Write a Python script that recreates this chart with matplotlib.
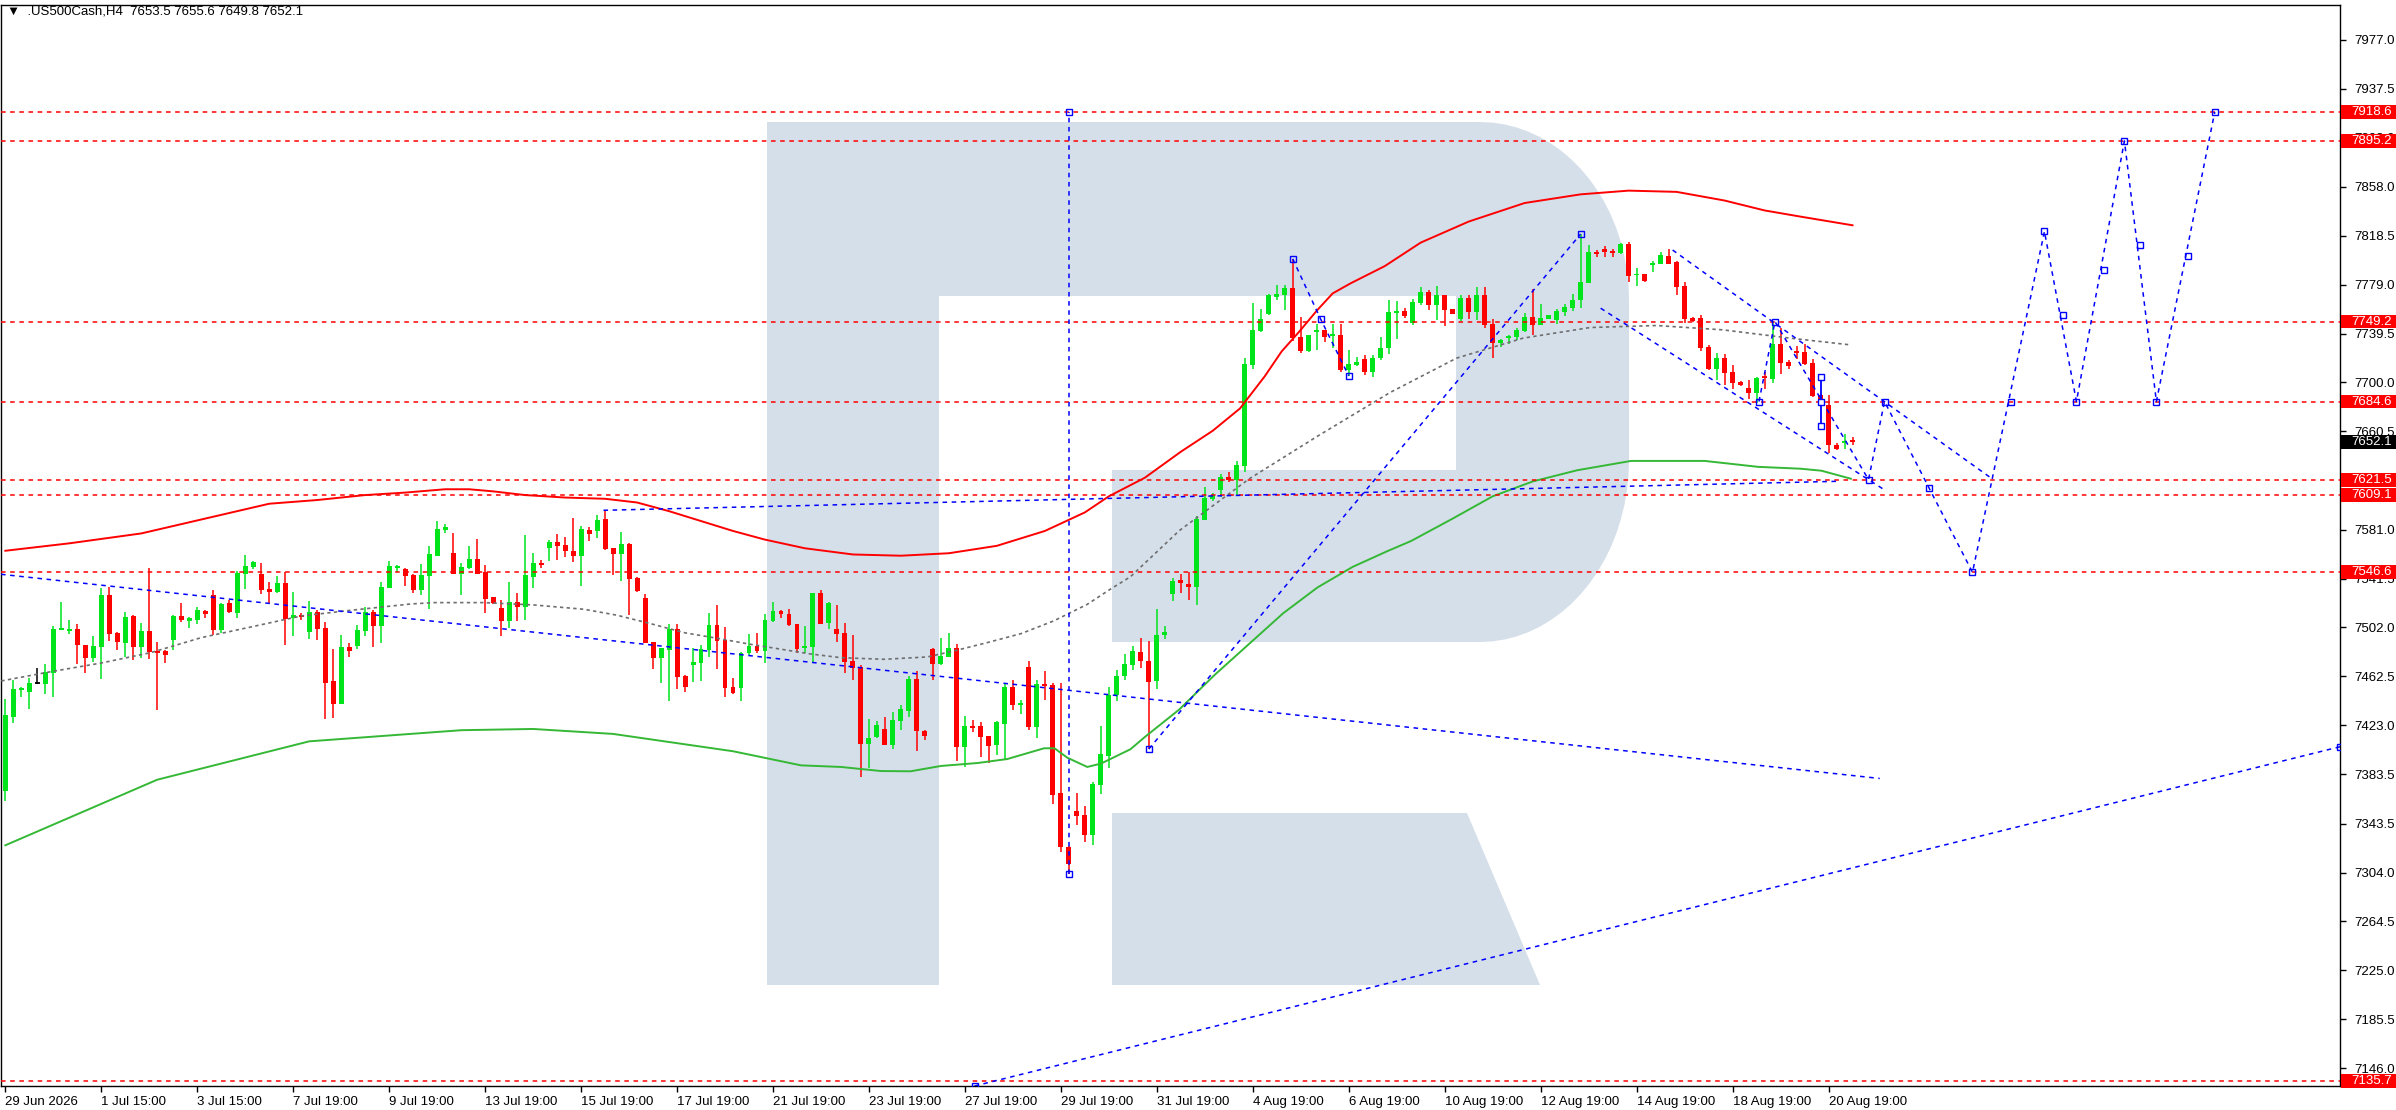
import matplotlib
matplotlib.use('Agg')
import matplotlib.pyplot as plt
from matplotlib.patches import Rectangle, PathPatch
from matplotlib.path import Path
import numpy as np

plt.rcParams['font.family'] = ['Liberation Sans', 'DejaVu Sans']

# H4 candles, bar 0 = 29 Jun 2026
opens = [7370.0, 7430.0, 7451.5, 7449.9, 7456.9, 7456.6, 7465.2, 7500.3, 7499.5, 7500.8,
         7487.9, 7477.6, 7486.5, 7528.3, 7497.8, 7489.8, 7511.3, 7486.5, 7499.2, 7483.0,
         7483.0, 7492.2, 7511.3, 7508.3, 7508.3, 7515.4, 7528.3, 7500.3, 7521.8, 7514.0,
         7545.5, 7551.2, 7545.3, 7533.1, 7531.0, 7538.0, 7510.0, 7512.1, 7498.6, 7514.5,
         7501.6, 7458.5, 7440.4, 7486.5, 7487.1, 7499.5, 7514.5, 7503.2, 7534.3, 7550.3,
         7549.6, 7544.5, 7532.6, 7543.9, 7559.8, 7580.8, 7562.2, 7545.5, 7549.8, 7557.4,
         7546.9, 7526.7, 7517.8, 7507.6, 7522.6, 7518.9, 7543.1, 7554.1, 7566.3, 7571.1,
         7568.7, 7563.8, 7559.8, 7580.8, 7580.0, 7589.7, 7566.3, 7561.4, 7569.5, 7542.0,
         7525.9, 7490.3, 7477.6, 7484.1, 7500.8, 7462.8, 7472.0, 7473.6, 7483.8, 7504.0,
         7491.9, 7453.9, 7453.4, 7481.7, 7487.1, 7483.0, 7507.0, 7515.3, 7512.9, 7504.8,
         7485.4, 7486.5, 7529.9, 7505.9, 7500.8, 7497.6, 7474.9, 7470.1, 7408.1, 7413.5,
         7420.0, 7407.3, 7426.7, 7434.8, 7460.4, 7418.4, 7484.6, 7472.8, 7478.4, 7485.2,
         7405.7, 7422.4, 7422.4, 7414.3, 7407.3, 7424.3, 7453.9, 7439.6, 7470.1, 7421.9,
         7456.4, 7455.5, 7368.5, 7324.9, 7353.7, 7350.5, 7334.3, 7374.7, 7398.0, 7447.5,
         7462.8, 7471.9, 7482.4, 7474.9, 7458.5, 7496.0, 7528.8, 7540.5, 7537.2, 7534.9,
         7589.1, 7606.1, 7613.0, 7623.6, 7621.4, 7632.5, 7714.2, 7741.4, 7755.3, 7770.0,
         7770.3, 7776.7, 7736.4, 7725.8, 7740.9, 7742.5, 7737.5, 7738.6, 7710.0, 7714.2,
         7719.2, 7708.6, 7720.0, 7727.5, 7756.5, 7757.8, 7747.9, 7764.5, 7773.3, 7762.9,
         7770.9, 7759.4, 7751.6, 7768.5, 7757.2, 7770.9, 7747.6, 7731.5, 7736.0, 7737.1,
         7741.2, 7753.2, 7746.8, 7751.6, 7750.8, 7757.2, 7760.5, 7766.9, 7780.6, 7805.5,
         7807.9, 7806.3, 7804.7, 7811.9, 7786.5, 7787.8, 7795.3, 7795.8, 7802.3, 7797.4,
         7778.1, 7752.4, 7752.4, 7728.3, 7710.6, 7719.5, 7708.2, 7700.2, 7695.3, 7691.3,
         7704.2, 7702.6, 7730.7, 7716.2, 7725.1, 7724.3, 7715.4, 7689.7, 7681.7, 7649.8,
         7652.1, 7653.5]
highs = [7444.0, 7459.6, 7454.2, 7461.5, 7469.5, 7472.3, 7502.9, 7522.9, 7508.1, 7504.6,
         7488.0, 7495.1, 7533.7, 7534.8, 7498.4, 7514.5, 7511.8, 7505.4, 7550.1, 7490.0,
         7483.5, 7512.1, 7522.1, 7510.5, 7518.6, 7516.4, 7532.3, 7521.8, 7524.5, 7547.7,
         7560.6, 7555.8, 7554.2, 7538.8, 7543.4, 7546.9, 7530.7, 7513.5, 7523.4, 7516.2,
         7506.5, 7484.9, 7496.0, 7489.5, 7504.0, 7518.6, 7516.2, 7539.1, 7555.8, 7552.5,
         7550.4, 7545.5, 7553.1, 7567.9, 7588.1, 7585.7, 7578.4, 7554.1, 7567.9, 7573.6,
         7552.5, 7526.9, 7524.2, 7538.8, 7529.9, 7577.0, 7562.2, 7556.6, 7572.7, 7577.6,
         7575.2, 7590.5, 7584.0, 7583.2, 7592.9, 7597.0, 7566.5, 7579.2, 7570.3, 7542.8,
         7529.1, 7490.5, 7485.7, 7504.8, 7504.8, 7463.9, 7485.5, 7487.9, 7513.7, 7520.2,
         7502.7, 7461.2, 7481.9, 7496.8, 7497.6, 7512.9, 7522.6, 7516.2, 7517.0, 7505.0,
         7503.2, 7530.0, 7532.6, 7522.9, 7520.2, 7505.6, 7495.9, 7471.7, 7428.1, 7426.4,
         7429.7, 7433.7, 7439.4, 7462.8, 7466.9, 7419.2, 7485.4, 7493.5, 7497.8, 7488.7,
         7430.5, 7427.3, 7425.6, 7414.5, 7426.4, 7456.4, 7459.6, 7443.4, 7475.0, 7459.6,
         7466.9, 7457.2, 7457.2, 7325.7, 7368.5, 7357.8, 7377.1, 7422.4, 7453.9, 7467.7,
         7480.7, 7487.1, 7493.5, 7491.3, 7517.2, 7503.0, 7541.9, 7545.5, 7546.9, 7591.9,
         7615.5, 7610.8, 7625.8, 7628.0, 7636.4, 7719.7, 7764.2, 7759.2, 7771.7, 7778.4,
         7778.4, 7799.8, 7753.1, 7738.6, 7747.0, 7742.7, 7747.0, 7747.5, 7726.4, 7720.3,
         7721.9, 7722.5, 7736.4, 7766.4, 7765.6, 7759.9, 7767.4, 7777.3, 7774.9, 7778.1,
         7771.0, 7759.6, 7770.9, 7770.9, 7777.3, 7777.3, 7751.6, 7734.8, 7738.7, 7744.4,
         7756.4, 7775.7, 7763.7, 7754.9, 7759.6, 7763.7, 7771.7, 7819.9, 7811.1, 7807.1,
         7810.3, 7807.9, 7812.7, 7813.5, 7792.6, 7787.9, 7798.2, 7805.5, 7807.9, 7798.2,
         7781.4, 7753.2, 7754.8, 7729.9, 7723.5, 7722.7, 7713.8, 7701.0, 7701.8, 7704.2,
         7708.2, 7749.2, 7744.4, 7717.8, 7729.1, 7730.7, 7718.6, 7690.5, 7689.7, 7651.4,
         7658.1, 7655.6]
lows = [7362.0, 7425.1, 7445.8, 7436.4, 7456.0, 7448.5, 7445.8, 7500.0, 7497.0, 7472.2,
        7465.2, 7474.1, 7460.7, 7491.1, 7484.1, 7478.2, 7476.0, 7477.6, 7476.8, 7435.6,
        7473.3, 7484.1, 7506.5, 7501.6, 7504.9, 7510.0, 7496.0, 7497.8, 7513.7, 7510.0,
        7533.1, 7549.6, 7529.1, 7521.8, 7530.2, 7487.9, 7495.1, 7508.1, 7493.0, 7491.6,
        7428.3, 7429.1, 7440.0, 7478.4, 7484.9, 7495.1, 7486.5, 7489.5, 7534.0, 7546.9,
        7535.6, 7530.2, 7528.3, 7517.2, 7559.5, 7578.4, 7545.0, 7528.3, 7549.0, 7545.0,
        7514.0, 7520.7, 7495.4, 7501.9, 7507.6, 7508.4, 7533.7, 7550.4, 7555.8, 7556.6,
        7559.0, 7555.0, 7535.6, 7572.0, 7574.3, 7564.6, 7544.4, 7539.6, 7512.1, 7531.0,
        7489.5, 7468.7, 7457.4, 7442.9, 7452.6, 7450.2, 7458.2, 7459.0, 7478.4, 7468.7,
        7446.1, 7448.5, 7442.9, 7480.0, 7481.7, 7473.6, 7506.7, 7510.0, 7503.5, 7481.7,
        7481.7, 7473.6, 7505.0, 7501.1, 7490.6, 7465.5, 7459.6, 7381.5, 7388.7, 7412.7,
        7407.0, 7404.1, 7419.4, 7430.0, 7402.5, 7411.4, 7459.9, 7472.0, 7478.0, 7394.4,
        7389.5, 7417.8, 7397.6, 7392.8, 7399.2, 7395.2, 7435.3, 7432.1, 7419.4, 7413.0,
        7443.4, 7359.6, 7320.8, 7302.5, 7342.4, 7328.6, 7326.2, 7367.4, 7388.4, 7442.6,
        7459.6, 7467.7, 7469.6, 7403.8, 7452.4, 7492.7, 7523.3, 7530.2, 7524.6, 7520.5,
        7589.0, 7604.4, 7607.7, 7619.7, 7609.4, 7628.0, 7710.8, 7741.0, 7754.5, 7766.4,
        7758.6, 7733.1, 7723.9, 7724.7, 7726.1, 7732.5, 7727.5, 7708.1, 7705.3, 7713.6,
        7705.8, 7704.2, 7718.3, 7723.1, 7735.0, 7752.4, 7746.3, 7762.9, 7758.8, 7750.8,
        7745.4, 7755.4, 7750.0, 7751.6, 7750.8, 7744.4, 7719.5, 7728.3, 7730.7, 7733.9,
        7741.0, 7738.7, 7746.6, 7751.5, 7747.6, 7754.0, 7758.0, 7760.5, 7780.5, 7801.5,
        7801.7, 7801.7, 7803.9, 7781.4, 7778.1, 7781.4, 7789.4, 7795.6, 7795.6, 7770.9,
        7748.4, 7749.2, 7725.1, 7709.8, 7701.8, 7697.7, 7694.5, 7696.9, 7686.5, 7683.3,
        7694.5, 7699.4, 7706.6, 7710.6, 7718.6, 7713.8, 7688.1, 7680.9, 7643.3, 7645.8,
        7646.6, 7649.8]
closes = [7431.0, 7452.3, 7453.1, 7457.2, 7456.9, 7465.8, 7500.8, 7501.6, 7500.8, 7487.9,
          7477.6, 7487.1, 7528.3, 7497.0, 7490.6, 7510.5, 7486.5, 7499.2, 7482.5, 7481.7,
          7480.1, 7511.3, 7508.3, 7509.4, 7516.2, 7513.2, 7500.3, 7521.0, 7514.5, 7546.1,
          7551.7, 7555.0, 7532.6, 7531.0, 7538.0, 7509.2, 7512.1, 7510.5, 7514.5, 7501.1,
          7457.2, 7440.4, 7486.5, 7483.3, 7500.3, 7514.5, 7503.2, 7534.8, 7551.7, 7551.7,
          7543.9, 7532.6, 7544.5, 7561.4, 7581.6, 7583.2, 7545.5, 7550.9, 7557.4, 7545.5,
          7525.3, 7522.1, 7507.6, 7522.6, 7518.9, 7544.4, 7554.1, 7552.5, 7571.1, 7567.9,
          7563.8, 7559.8, 7581.6, 7577.6, 7588.9, 7565.5, 7561.4, 7569.5, 7541.5, 7531.8,
          7489.8, 7477.6, 7485.5, 7500.8, 7462.3, 7454.2, 7474.4, 7484.6, 7504.0, 7491.1,
          7453.4, 7449.3, 7481.1, 7487.1, 7483.0, 7508.1, 7515.3, 7512.9, 7504.3, 7484.9,
          7487.1, 7529.9, 7505.1, 7521.8, 7497.0, 7474.4, 7469.5, 7408.1, 7412.7, 7423.2,
          7407.3, 7427.3, 7436.2, 7460.4, 7418.6, 7414.6, 7472.8, 7478.7, 7485.2, 7405.7,
          7422.4, 7421.1, 7413.8, 7406.5, 7425.6, 7453.9, 7439.6, 7441.0, 7421.9, 7456.4,
          7454.7, 7366.9, 7324.9, 7311.1, 7349.7, 7334.3, 7375.5, 7399.8, 7447.5, 7462.8,
          7472.4, 7482.9, 7474.6, 7457.7, 7496.0, 7498.0, 7539.4, 7537.7, 7534.9, 7590.0,
          7606.6, 7609.4, 7623.3, 7621.4, 7633.0, 7714.7, 7742.2, 7750.9, 7770.3, 7771.1,
          7776.7, 7735.9, 7725.8, 7738.1, 7742.5, 7736.7, 7738.9, 7710.0, 7714.7, 7716.9,
          7708.6, 7720.0, 7728.1, 7757.3, 7758.1, 7754.0, 7765.3, 7773.3, 7762.9, 7770.9,
          7758.8, 7755.6, 7768.5, 7757.2, 7770.9, 7746.8, 7731.5, 7734.7, 7737.9, 7742.0,
          7753.2, 7746.8, 7752.4, 7754.8, 7758.0, 7761.3, 7766.9, 7781.4, 7805.5, 7804.1,
          7805.7, 7804.7, 7811.9, 7786.2, 7787.8, 7782.2, 7796.6, 7803.1, 7795.8, 7777.3,
          7751.6, 7750.0, 7727.5, 7710.6, 7719.5, 7707.4, 7699.4, 7697.7, 7691.3, 7703.4,
          7703.4, 7730.7, 7715.4, 7713.0, 7723.5, 7714.6, 7688.9, 7681.7, 7649.8, 7646.6,
          7653.0, 7652.1]

tick_labels = ['29 Jun 2026', '1 Jul 15:00', '3 Jul 15:00', '7 Jul 19:00', '9 Jul 19:00',
               '13 Jul 19:00', '15 Jul 19:00', '17 Jul 19:00', '21 Jul 19:00', '23 Jul 19:00',
               '27 Jul 19:00', '29 Jul 19:00', '31 Jul 19:00', '4 Aug 19:00', '6 Aug 19:00',
               '10 Aug 19:00', '12 Aug 19:00', '14 Aug 19:00', '18 Aug 19:00', '20 Aug 19:00']
price_ticks = [7146.0, 7185.5, 7225.0, 7264.5, 7304.0, 7343.5, 7383.5, 7423.0, 7462.5, 7502.0,
               7541.5, 7581.0, 7621.0, 7660.5, 7700.0, 7739.5, 7779.0, 7818.5, 7858.0, 7898.0,
               7937.5, 7977.0]
levels = [7918.6, 7895.2, 7749.2, 7684.6, 7621.5, 7609.1, 7546.6, 7135.7]
last_price = 7652.1

# moving averages (bar index, price)
red_ma_x = [0, 8, 17, 25, 33, 39, 45, 50, 55, 58, 61, 65, 70, 75, 79, 83, 87, 91, 95, 100,
            106, 112, 118, 124, 130, 135, 138, 142.5, 147, 151, 154.4, 157.5, 159.6, 161.8,
            164, 166, 168.2, 172.5, 177, 183, 190, 197, 203, 209, 215, 220, 224.5, 231]
red_ma_y = [7564, 7570, 7578, 7590, 7602, 7605, 7609, 7611, 7613.7, 7613.7, 7612, 7609, 7607,
            7606, 7603, 7596, 7588, 7580, 7573, 7566, 7561, 7560, 7562, 7568, 7580, 7595, 7608,
            7623, 7644, 7661, 7679, 7705, 7725, 7741, 7758, 7772, 7780, 7794, 7813, 7830, 7845,
            7852, 7855, 7854, 7847, 7839, 7834, 7827]
gray_ma_x = [-0.5, 5.7, 12, 18.2, 24.5, 30.7, 37, 43.2, 50.7, 53.6, 59.9, 66.1, 72.4, 76.5,
             80.7, 84.9, 89, 93.2, 100.7, 104.5, 109.9, 115.3, 118.6, 122.8, 127, 131.1, 135.3,
             138.2, 140.7, 146.8, 155.5, 164.1, 173.2, 181.5, 189.8, 198.2, 206.5, 214.8, 223.2,
             230.7]
gray_ma_y = [7458.8, 7466.3, 7473.3, 7481.7, 7493.8, 7502.4, 7511.3, 7515.9, 7521.0, 7522.1,
             7522.1, 7520.2, 7516.7, 7511.9, 7505.1, 7497.8, 7493.3, 7488.4, 7480.6, 7477.6,
             7476.3, 7478.2, 7483.0, 7489.8, 7497.0, 7507.3, 7520.7, 7533.0, 7543.0, 7580.2,
             7621.9, 7656.6, 7692.0, 7719.7, 7735.8, 7744.4, 7746.0, 7742.5, 7735.8, 7730.4]
green_ma_x = [0, 19, 38, 57, 66, 76, 91, 99.5, 104.5, 109.5, 113.2, 117, 121.6, 125.3, 129.9,
              131.2, 132.8, 135.3, 137, 140.7, 142.5, 146.8, 151.2, 155.5, 159.8, 164.1, 168.5,
              172.8, 175.8, 181, 186, 191, 196.6, 203.3, 212.5, 219.2, 224.5, 227.1, 230.8]
green_ma_y = [7326, 7379, 7410, 7419, 7420, 7416, 7402, 7390.6, 7389.3, 7386.0, 7385.8, 7390.1,
              7392.5, 7395.7, 7404.4, 7404.4, 7396.8, 7389.3, 7392.0, 7403.6, 7413.5, 7435.7,
              7463.5, 7488.5, 7513.5, 7534.4, 7551.0, 7563.6, 7571.9, 7590, 7608, 7620, 7629.1,
              7636.6, 7636.6, 7631.8, 7630.3, 7628.7, 7622.2]

# drawn objects (blue)
down_trend_x, down_trend_y = [-0.54, 234.4], [7545.0, 7380.0]
flat_line_x, flat_line_y = [74.8, 229.0], [7596.7, 7620.1]
vline_bar, vline_y = 133, [7302.5, 7918.6]
rise_x, rise_y = [143, 197], [7403.8, 7819.9]
drop_x, drop_y = [161, 164.5, 168], [7799.8, 7751.0, 7705.3]
upper_ch_x, upper_ch_y = [208.5, 248.6], [7807.0, 7621.5]
lower_ch_x, lower_ch_y = [199.5, 234.8], [7760.0, 7614.0]
zigzag_x = [219.3, 221.3, 233, 235, 246, 255, 259, 265, 269, 276.3]
zigzag_y = [7684.6, 7749.2, 7621.5, 7684.6, 7546.6, 7822.0, 7684.6, 7895.2, 7684.6, 7918.6]
zig_mid_x = [240.6, 250.8, 257.3, 262.4, 266.9, 273.0]
zig_mid_y = [7615.0, 7684.6, 7754.7, 7791.0, 7811.0, 7801.8]
bottom_rise_x, bottom_rise_y = [121.2, 292.0], [7131.5, 7405.7]
marker_bar, marker_y = 227, [7704.6, 7684.6, 7665.0]

W, H = 2396, 1110
YMIN, YMAX = 7131.5, 8005.0
XMIN, XMAX = -0.54, 291.96
GREEN = '#00E41B'
RED = '#FF0000'
BLUE = '#0000FF'

fig = plt.figure(figsize=(W / 100, H / 100), dpi=100)
ax = fig.add_axes([1 / W, 24 / H, (2340 - 1) / W, 1081 / H])
ax.set_xlim(XMIN, XMAX)
ax.set_ylim(YMIN, YMAX)

# watermark logo (pixel geometry of the image, y down)
def px(xp, yp):
    return (xp / W, 1 - yp / H)

t1 = np.linspace(np.pi / 2, 0, 20)
t2 = np.linspace(0, -np.pi / 2, 20)
outer = [(767, 122), (1480, 122)]
outer += [(1480 + 149 * np.cos(t), 300 - 178 * np.sin(t)) for t in t1]
outer += [(1629, 460)]
outer += [(1480 + 149 * np.cos(t), 460 - 182 * np.sin(t)) for t in t2]
outer += [(1112, 642), (1112, 470), (1456, 470), (1456, 296), (939, 296), (939, 985),
          (767, 985), (767, 122)]
leg = [(1112, 813), (1467, 813), (1540, 985), (1112, 985), (1112, 813)]
verts, codes = [], []
for shape in (outer, leg):
    pts = [px(a, b) for a, b in shape]
    verts += pts
    codes += [Path.MOVETO] + [Path.LINETO] * (len(pts) - 2) + [Path.CLOSEPOLY]
ax.add_patch(PathPatch(Path(verts, codes), facecolor='#D5DFEA', edgecolor='none',
                       transform=fig.transFigure, zorder=0))

# candles
xb = np.arange(len(closes))
o, c = np.array(opens), np.array(closes)
hi, lo = np.array(highs), np.array(lows)
cols = np.where(c > o, GREEN, np.where(c < o, RED, 'black'))
ax.vlines(xb, lo, hi, colors=cols, lw=1.1, zorder=3)
ax.bar(xb, np.abs(c - o), bottom=np.minimum(o, c), width=0.62, color=cols, lw=0, zorder=3)
thin = np.abs(c - o) < 1.2
ax.hlines(o[thin], xb[thin] - 0.31, xb[thin] + 0.31, colors=cols[thin], lw=1.3, zorder=3)

# indicators
ax.plot(red_ma_x, red_ma_y, color=RED, lw=1.4, zorder=4)
ax.plot(green_ma_x, green_ma_y, color='#35B835', lw=1.4, zorder=4)
ax.plot(gray_ma_x, gray_ma_y, color='#6E6E6E', lw=1.2, ls=(0, (2, 2)), zorder=4)

# horizontal levels
for lv in levels:
    ax.axhline(lv, color=RED, lw=1.1, ls=(0, (3, 3)), zorder=5)

# blue objects
dash = dict(color=BLUE, lw=1.1, ls=(0, (3, 3)), zorder=6)
sq = dict(ls='none', marker='s', ms=4.5, mfc='none', mec=BLUE, mew=1, zorder=7)
ax.plot(down_trend_x, down_trend_y, **dash)
ax.plot(flat_line_x, flat_line_y, **dash)
ax.plot([vline_bar, vline_bar], vline_y, **dash)
ax.plot([vline_bar, vline_bar], vline_y, **sq)
ax.plot(rise_x, rise_y, **dash)
ax.plot(rise_x, rise_y, **sq)
ax.plot(drop_x, drop_y, **dash)
ax.plot(drop_x, drop_y, **sq)
ax.plot(upper_ch_x, upper_ch_y, **dash)
ax.plot(lower_ch_x, lower_ch_y, **dash)
ax.plot(zigzag_x, zigzag_y, **dash)
ax.plot(zigzag_x, zigzag_y, **sq)
ax.plot(zig_mid_x, zig_mid_y, **sq)
ax.plot(bottom_rise_x, bottom_rise_y, **dash)
ax.plot(bottom_rise_x, bottom_rise_y, **sq)
ax.plot([marker_bar] * 3, marker_y, color=BLUE, lw=1.3, zorder=7)
ax.plot([marker_bar] * 3, marker_y, **{**sq, 'mfc': 'white'})

# axes styling
for s in ax.spines.values():
    s.set_color('black')
    s.set_linewidth(1)
ax.set_xticks(np.arange(len(tick_labels)) * 12)
ax.set_xticklabels(tick_labels, ha='left')
ax.yaxis.tick_right()
ax.set_yticks(price_ticks)
ax.set_yticklabels([f'{v:.1f}' for v in price_ticks])
ax.tick_params(axis='x', direction='out', length=4, pad=3, labelsize=9.5, width=1)
ax.tick_params(axis='y', direction='out', length=4, pad=6, labelsize=9.5, width=1)

# price labels on the right scale
box_w = (W - 2341) / 2340
tr = ax.get_yaxis_transform()
for lv in levels + [last_price]:
    fc = 'black' if lv == last_price else RED
    ax.add_patch(Rectangle((1.0004, lv - 5.6), box_w, 11.2, transform=tr, facecolor=fc,
                           edgecolor='none', clip_on=False, zorder=10))
    ax.text(1 + 11 / 2340, lv, f'{lv:.1f}', transform=tr, color='white', fontsize=9.5,
            va='center', ha='left', clip_on=False, zorder=11)

fig.text(7 / W, 1 - 12 / H, '\u25BC  .US500Cash,H4  7653.5 7655.6 7649.8 7652.1',
         fontsize=9.5, va='center', ha='left', color='black')

fig.savefig('out.png', dpi=100)
